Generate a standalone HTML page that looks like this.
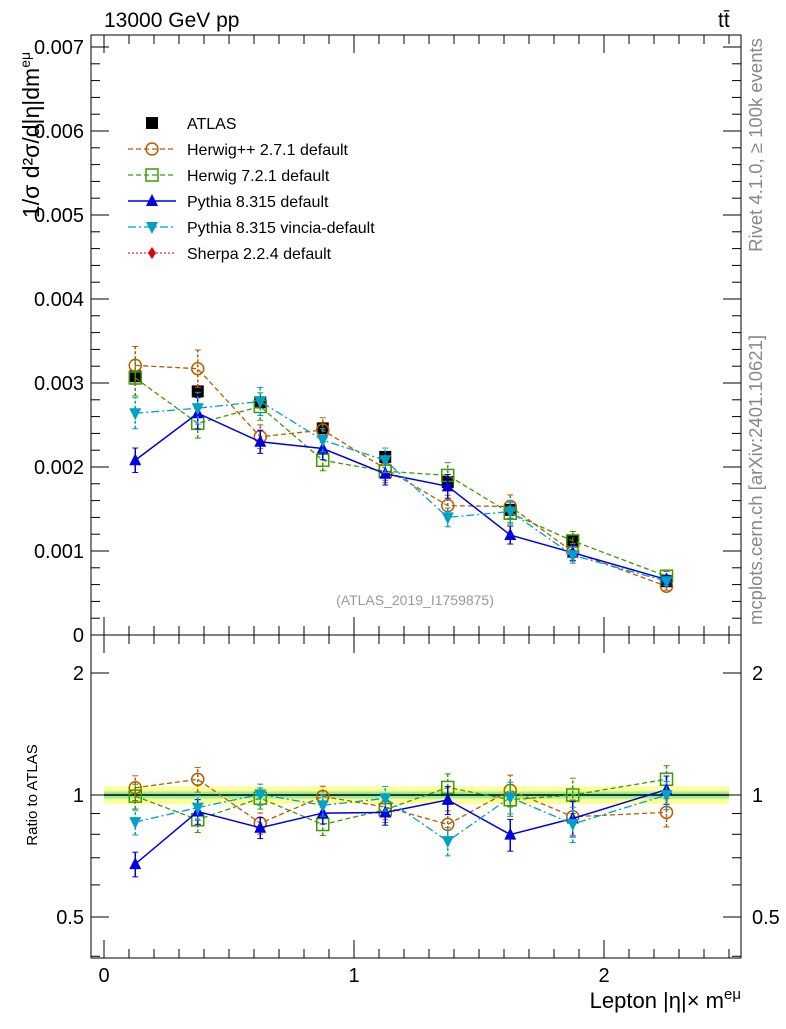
<!DOCTYPE html>
<html><head><meta charset="utf-8"><style>
body{margin:0;background:#fff;}
svg{font-family:"Liberation Sans",sans-serif;}
</style></head><body>
<svg id="c" width="786" height="1024" xmlns="http://www.w3.org/2000/svg">
<text x="104" y="27" font-size="21">13000 GeV pp</text>
<text x="718" y="27" font-size="21">tt̄</text>
<text transform="translate(762,145) rotate(-90)" font-size="18.5" fill="#888" text-anchor="middle">Rivet 4.1.0, ≥ 100k events</text>
<text transform="translate(762,480) rotate(-90)" font-size="18.5" fill="#888" text-anchor="middle">mcplots.cern.ch [arXiv:2401.10621]</text>
<text x="415" y="605" font-size="14" fill="#999" text-anchor="middle">(ATLAS_2019_I1759875)</text>
<text transform="translate(39,135) rotate(-90)" font-size="23" text-anchor="middle">1/σ  d²σ/d|η|dm<tspan font-size="14" dy="-9">eμ</tspan></text>
<text transform="translate(37,795) rotate(-90)" font-size="15" text-anchor="middle">Ratio to ATLAS</text>
<text x="741" y="1008" font-size="22" text-anchor="end">Lepton |η|× m<tspan font-size="15" dy="-9">eμ</tspan></text>
<g id="g"></g>
</svg>
<script>
const xCenters=[0.125,0.375,0.625,0.875,1.125,1.375,1.625,1.875,2.25];
const atlas=[3.08,2.90,2.77,2.46,2.12,1.82,1.49,1.12,0.64];
const herwigpp=[3.21,3.17,2.36,2.44,1.98,1.54,1.53,0.99,0.58];
const herwig7=[3.06,2.52,2.72,2.08,1.95,1.90,1.45,1.12,0.70];
const pythia=[2.08,2.64,2.30,2.22,1.92,1.77,1.19,0.98,0.66];
const vincia=[2.64,2.70,2.78,2.32,2.08,1.40,1.47,0.95,0.64];
const relErr=[0.07,0.07,0.06,0.06,0.07,0.08,0.09,0.10,0.08];
const yTicks=[0,1,2,3,4,5,6,7];
const yTickLabels=["0","0.001","0.002","0.003","0.004","0.005","0.006","0.007"];
const rTicks=[0.5,1,2];
const rTickLabels=["0.5","1","2"];
const xTicks=[0,1,2];
const NS="http://www.w3.org/2000/svg";
const g=document.getElementById('g');
const L=91,R=741,T=35,M=635,B=958;
const X=v=>104+250*v;
const Y=v=>635-84*v;
const RY=r=>795-122*Math.log2(r);
function el(t,a,p){const e=document.createElementNS(NS,t);for(const k in a)e.setAttribute(k,a[k]);(p||g).appendChild(e);return e;}
const bx0=X(0),bx1=X(2.5);
let band=el('rect',{x:bx0,y:RY(1.05),width:bx1-bx0,height:RY(0.95)-RY(1.05),fill:'#ffff99'});


let band2=el('rect',{x:bx0,y:RY(1.02),width:bx1-bx0,height:RY(0.98)-RY(1.02),fill:'#99ee99'});


let one=el('line',{x1:bx0,x2:bx1,y1:RY(1),y2:RY(1),stroke:'#000','stroke-width':1.5});


for(const [y0,y1,n] of [[T,M,'main-frame'],[M,B,'ratio-frame']]){
 const f=el('rect',{x:L,y:y0,width:R-L,height:y1-y0,fill:'none',stroke:'#000','stroke-width':1});
 
 
}
for(let v=0;v<=7.0001;v+=0.2){const y=Y(v);const maj=Math.abs(v-Math.round(v))<1e-6;const len=maj?18:9;
 el('line',{x1:L,x2:L+len,y1:y,y2:y,stroke:'#000'});el('line',{x1:R,x2:R-len,y1:y,y2:y,stroke:'#000'});}
yTicks.forEach((v,i)=>{const t=el('text',{x:84,y:Y(v)+7,'font-size':20,'text-anchor':'end'});t.textContent=yTickLabels[i];
 
 });
[0.4,0.5,0.6,0.7,0.8,0.9,1,2].forEach(r=>{const y=RY(r);const maj=rTicks.includes(r);const len=maj?18:9;
 el('line',{x1:L,x2:L+len,y1:y,y2:y,stroke:'#000'});el('line',{x1:R,x2:R-len,y1:y,y2:y,stroke:'#000'});});
rTicks.forEach((r,i)=>{for(const x of [84,752]){const t=el('text',{x:x,y:RY(r)+7,'font-size':20,'text-anchor':x<100?'end':'start'});t.textContent=rTickLabels[i];
 
 }});
for(let v=0;v<=2.5001;v+=0.1){const x=X(v);const maj=Math.abs(v-Math.round(v))<1e-6;const len=maj?18:9;
 for(const [yb,d] of [[M,-1],[T,1],[B,-1],[M,1]]) el('line',{x1:x,x2:x,y1:yb,y2:yb+d*len,stroke:'#000'});}
xTicks.forEach(v=>{const t=el('text',{x:X(v),y:982,'font-size':20,'text-anchor':'middle'});t.textContent=String(v);
 
 });
function marker(type,x,y,c,p){
 if(type==='sq')el('rect',{x:x-6,y:y-6,width:12,height:12,fill:'#000'},p);
 else if(type==='osq')el('rect',{x:x-6,y:y-6,width:12,height:12,fill:'none',stroke:c,'stroke-width':1.5},p);
 else if(type==='circ')el('circle',{cx:x,cy:y,r:6,fill:'none',stroke:c,'stroke-width':1.5},p);
 else if(type==='up')el('polygon',{points:`${x},${y-7} ${x-6},${y+5} ${x+6},${y+5}`,fill:c},p);
 else if(type==='down')el('polygon',{points:`${x},${y+7} ${x-6},${y-5} ${x+6},${y-5}`,fill:c},p);
 else if(type==='dia')el('polygon',{points:`${x},${y-6} ${x-4},${y} ${x},${y+6} ${x+4},${y}`,fill:c},p);
}
const series=[
 {n:'herwigpp-2.7.1',d:herwigpp,c:'#b85c00',m:'circ',dash:'5,3',w:1.3,lab:'Herwig++ 2.7.1 default'},
 {n:'herwig-7.2.1',d:herwig7,c:'#3d9a00',m:'osq',dash:'5,3',w:1.3,lab:'Herwig 7.2.1 default'},
 {n:'pythia-8.315',d:pythia,c:'#0000e0',m:'up',dash:'',w:1.5,lab:'Pythia 8.315 default'},
 {n:'pythia-8.315-vincia',d:vincia,c:'#00a0c8',m:'down',dash:'8,3,2,3',w:1.3,lab:'Pythia 8.315 vincia-default'},
];
function drawSeries(s,ratio){
 const grp=el('g',{});
 
 
 const ys=s.d.map((v,i)=>ratio?RY(v/atlas[i]):Y(v));
 el('polyline',{points:xCenters.map((x,i)=>X(x)+','+ys[i]).join(' '),fill:'none',stroke:s.c,'stroke-width':s.w,'stroke-dasharray':s.dash},grp);
 s.d.forEach((v,i)=>{const x=X(xCenters[i]);
  const lo=ratio?RY(v*(1-relErr[i])/atlas[i]):Y(v*(1-relErr[i])),hi=ratio?RY(v*(1+relErr[i])/atlas[i]):Y(v*(1+relErr[i]));
  el('line',{x1:x,x2:x,y1:lo,y2:hi,stroke:s.c,'stroke-width':1.5,'stroke-dasharray':s.dash?'3,2':''},grp);
  el('line',{x1:x-3,x2:x+3,y1:lo,y2:lo,stroke:s.c},grp);el('line',{x1:x-3,x2:x+3,y1:hi,y2:hi,stroke:s.c},grp);
  marker(s.m,x,ys[i],s.c,grp);});
}
const ag=el('g',{});


atlas.forEach((v,i)=>{const x=X(xCenters[i]);el('line',{x1:x,x2:x,y1:Y(v*0.97),y2:Y(v*1.03),stroke:'#000'},ag);marker('sq',x,Y(v),'#000',ag);});
series.forEach(s=>{drawSeries(s,false);drawSeries(s,true);});
const lg=el('g',{});


const rows=[{lab:'ATLAS',m:'sq',c:'#000'}].concat(series).concat([{lab:'Sherpa 2.2.4 default',m:'dia',c:'#e00000',dash:'2,2',w:1}]);
rows.forEach((r,i)=>{const y=123+i*26;const e=el('g',{},lg);
 
 
 if(r.m!=='sq')el('line',{x1:128,x2:176,y1:y,y2:y,stroke:r.c,'stroke-width':r.w||1.3,'stroke-dasharray':r.dash||''},e);
 marker(r.m,152,y,r.c,e);
 const t=el('text',{x:187,y:y+6,'font-size':16},e);t.textContent=r.lab;});
</script>
</body></html>
